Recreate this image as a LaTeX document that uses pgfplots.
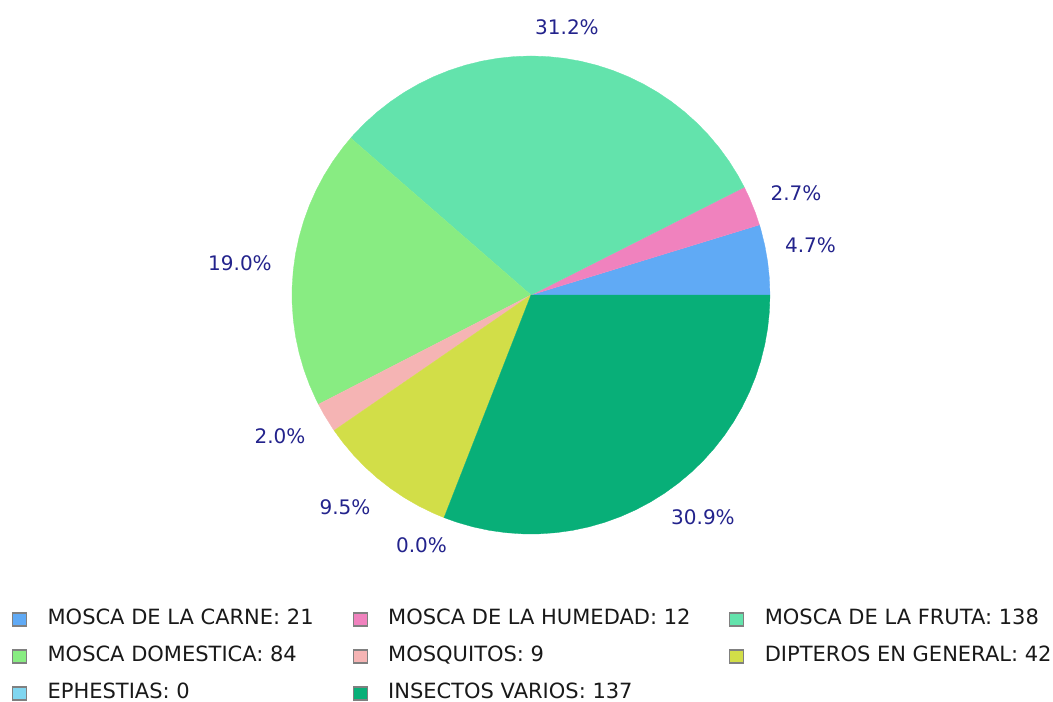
\documentclass[border=0pt]{standalone}
\usepackage{pgfplots}
\pgfplotsset{compat=1.18}
\usepackage{fontspec}
\setmainfont{DejaVu Sans}
\definecolor{cCarne}{RGB}{96,170,245}
\definecolor{cHumedad}{RGB}{240,130,190}
\definecolor{cFruta}{RGB}{99,227,172}
\definecolor{cDomestica}{RGB}{136,236,130}
\definecolor{cMosquitos}{RGB}{245,180,180}
\definecolor{cDipteros}{RGB}{210,222,72}
\definecolor{cEphestias}{RGB}{128,214,240}
\definecolor{cVarios}{RGB}{8,175,120}
\definecolor{cLabel}{RGB}{35,35,140}
\begin{document}
\begin{tikzpicture}
\path[use as bounding box] (0,0) rectangle (1053bp,702bp);
\begin{axis}[
  at={(0,0)}, anchor=south west,
  scale only axis, width=1053bp, height=702bp,
  xmin=-2.2218, xmax=2.1841, ymin=-1.7029, ymax=1.2343,
  hide axis, clip=false,
  legend columns=3,
  legend image code/.code={%
    \path[draw=none, fill=none] (0bp,-7bp) rectangle (35bp,7bp);
    \draw[#1, draw=gray, line width=1.2bp] (0bp,-6.5bp) rectangle (14bp,6.5bp);},
  legend style={at={(axis description cs:0.0114,0.1311)}, anchor=north west,
    draw=none, fill=none, inner sep=0pt, outer sep=0pt,
    column sep=0pt, row sep=18bp,
    font=\fontsize{21bp}{25bp}\selectfont, text=black!90,
    nodes={inner sep=0pt, outer sep=0pt, text height=15bp, text depth=4bp, anchor=west},
    cells={anchor=west}},
]
% MOSCA DE LA CARNE: 21
\addplot[fill=cCarne, draw=cCarne, line width=0.3bp, data cs=polar] coordinates {
 (0,0) (0,1) (4,1) (8,1) (12,1) (16,1) (17.065,1)};
\addlegendentry{\makebox[305bp][l]{MOSCA DE LA CARNE: 21}}
% MOSCA DE LA HUMEDAD: 12
\addplot[fill=cHumedad, draw=cHumedad, line width=0.3bp, data cs=polar] coordinates {
 (0,0) (17.065,1) (20,1) (24,1) (26.817,1)};
\addlegendentry{\makebox[341bp][l]{MOSCA DE LA HUMEDAD: 12}}
% MOSCA DE LA FRUTA: 138
\addplot[fill=cFruta, draw=cFruta, line width=0.3bp, data cs=polar] coordinates {
 (0,0) (26.817,1) (30,1) (34,1) (38,1) (42,1) (46,1) (50,1) (54,1) (58,1) (62,1)
 (66,1) (70,1) (74,1) (78,1) (82,1) (86,1) (90,1) (94,1) (98,1) (102,1) (106,1)
 (110,1) (114,1) (118,1) (122,1) (126,1) (130,1) (134,1) (138,1) (138.962,1)};
\addlegendentry{MOSCA DE LA FRUTA: 138}
% MOSCA DOMESTICA: 84
\addplot[fill=cDomestica, draw=cDomestica, line width=0.3bp, data cs=polar] coordinates {
 (0,0) (138.962,1) (142,1) (146,1) (150,1) (154,1) (158,1) (162,1) (166,1) (170,1)
 (174,1) (178,1) (182,1) (186,1) (190,1) (194,1) (198,1) (202,1) (206,1) (207.223,1)};
\addlegendentry{MOSCA DOMESTICA: 84}
% MOSQUITOS: 9
\addplot[fill=cMosquitos, draw=cMosquitos, line width=0.3bp, data cs=polar] coordinates {
 (0,0) (207.223,1) (210,1) (214,1) (214.537,1)};
\addlegendentry{MOSQUITOS: 9}
% DIPTEROS EN GENERAL: 42
\addplot[fill=cDipteros, draw=cDipteros, line width=0.3bp, data cs=polar] coordinates {
 (0,0) (214.537,1) (218,1) (222,1) (226,1) (230,1) (234,1) (238,1) (242,1) (246,1) (248.668,1)};
\addlegendentry{DIPTEROS EN GENERAL: 42}
% EPHESTIAS: 0 (zero-size slice)
\addlegendimage{fill=cEphestias, draw=gray}
\addlegendentry{EPHESTIAS: 0}
% INSECTOS VARIOS: 137
\addplot[fill=cVarios, draw=cVarios, line width=0.3bp, data cs=polar] coordinates {
 (0,0) (248.668,1) (252,1) (256,1) (260,1) (264,1) (268,1) (272,1) (276,1) (280,1)
 (284,1) (288,1) (292,1) (296,1) (300,1) (304,1) (308,1) (312,1) (316,1) (320,1)
 (324,1) (328,1) (332,1) (336,1) (340,1) (344,1) (348,1) (352,1) (356,1) (360,1)};
\addlegendentry{INSECTOS VARIOS: 137}
% percentage labels
\begin{scope}[every node/.style={font=\fontsize{20bp}{24bp}\selectfont, text=cLabel,
   inner sep=0pt, text height=14.5bp, text depth=0pt, anchor=center}]
\node at (axis cs:0.1506,1.1213) {31.2\%};
\node at (axis cs:1.1088,0.4268) {2.7\%};
\node at (axis cs:1.1695,0.2092) {4.7\%};
\node at (axis cs:-1.2176,0.1339) {19.0\%};
\node at (axis cs:-1.0502,-0.5900) {2.0\%};
\node at (axis cs:-0.7782,-0.8870) {9.5\%};
\node at (axis cs:-0.4582,-1.0460) {0.0\%};
\node at (axis cs:0.7197,-0.9289) {30.9\%};
\end{scope}
\end{axis}
\end{tikzpicture}
\end{document}
